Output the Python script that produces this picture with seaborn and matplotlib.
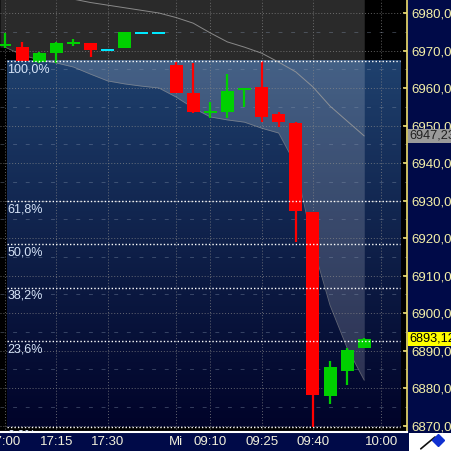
import numpy as np
import pandas as pd
import seaborn as sns
import matplotlib.pyplot as plt
from matplotlib.colors import to_rgb

# 5-Minuten-Kerzen, Index 0 = 17:00 (Vortag), Index 10 = 09:00 (Mi)
bar_idx = list(range(22))
open_ = [6971.3, 6970.9, 6966.9, 6969.3, 6972.0, 6972.0, 6970.1, 6970.7, 6974.7, 6974.7, 6966.1,
         6958.7, 6953.6, 6953.6, 6959.5, 6960.3, 6953.1, 6950.7, 6926.9, 6877.9, 6884.5, 6890.7]
close = [6971.5, 6967.2, 6969.3, 6972.0, 6972.2, 6970.1, 6970.1, 6974.9, 6974.7, 6974.7, 6958.7,
         6953.6, 6953.8, 6959.2, 6959.8, 6952.3, 6950.9, 6927.2, 6878.1, 6885.6, 6890.1, 6893.12]
high = [6974.7, 6972.3, 6969.5, 6972.3, 6973.1, 6972.0, 6970.1, 6974.9, 6974.7, 6974.7, 6967.0,
        6966.7, 6956.3, 6963.7, 6959.8, 6967.2, 6953.6, 6950.9, 6927.0, 6887.2, 6890.7, 6893.3]
low = [6970.6, 6967.2, 6966.7, 6966.7, 6971.2, 6968.3, 6970.1, 6970.7, 6974.7, 6974.7, 6958.7,
       6953.3, 6952.0, 6952.0, 6955.0, 6950.9, 6949.6, 6918.9, 6869.5, 6875.7, 6880.8, 6890.7]

# Baender (oberes / unteres)
upper_band = [6991.0, 6989.0, 6987.2, 6985.4, 6983.7, 6982.8, 6982.1, 6981.4, 6980.7, 6980.0, 6978.8,
              6977.3, 6974.7, 6972.3, 6970.9, 6969.3, 6966.9, 6964.3, 6960.3, 6955.2, 6951.2, 6947.23]
lower_band = [6970.9, 6968.8, 6967.5, 6966.7, 6965.6, 6963.7, 6961.9, 6961.1, 6960.5, 6960.0, 6957.6,
              6954.7, 6952.3, 6951.5, 6950.9, 6949.3, 6948.0, 6939.5, 6918.0, 6902.1, 6890.7, 6882.1]

# Fibonacci-Retracement
fib_high = 6967.2
fib_low = 6869.5
fib_levels = [1.0, 0.618, 0.5, 0.382, 0.236, 0.0]
fib_labels = ["100,0%", "61,8%", "50,0%", "38,2%", "23,6%", "0,0%"]

tick_pos = [0, 3, 6, 10, 12, 15, 18, 22]
tick_labels = ["17:00", "17:15", "17:30", "Mi", "09:10", "09:25", "09:40", "10:00"]
price_ticks = list(range(6870, 6990, 10))

last_price = 6893.12
band_last = 6947.23


def setup():
    sns.set_theme(style="dark")
    plt.rcParams["font.family"] = ["Liberation Sans", "DejaVu Sans"]


def draw_chart():
    fig = plt.figure(figsize=(4.51, 4.51), dpi=100, facecolor="#000a48")
    ax = fig.add_axes([0, 19 / 451, 407 / 451, 432 / 451])
    ax.set_facecolor("black")

    x_left, x_right = -0.29, 23.5
    y_bottom, y_top = 6868.3, 6983.47
    fib_x0, fib_x1 = 0.12, 23.1

    # Verlauf im Fibonacci-Bereich
    top_c = np.array(to_rgb("#1f416e"))
    bot_c = np.array(to_rgb("#01042a"))
    t = np.linspace(0, 1, 256) ** 1.1
    grad = (bot_c[None, :] * (1 - t[:, None]) + top_c[None, :] * t[:, None])[:, None, :]
    ax.imshow(grad, extent=[fib_x0, fib_x1, fib_low, fib_high], origin="lower",
              aspect="auto", zorder=0, interpolation="bilinear")

    # helle Flaeche oberhalb des unteren Bandes
    fx = np.r_[x_left, bar_idx]
    fy = np.r_[lower_band[0], lower_band]
    ax.fill_between(fx, fy, y_top + 5, color="white", alpha=0.17, lw=0, zorder=1)

    # Gitter
    for v in price_ticks:
        ax.axhline(v, color="#8a8a8a", lw=0.7, ls=(0, (1, 2)), alpha=0.7, zorder=2)
        ax.axhline(v + 5, color="#8090a8", lw=0.7, ls=(0, (4, 9)), alpha=0.4, zorder=2)
    for p in tick_pos:
        ax.axvline(p, color="#8a8a8a", lw=0.7, ls=(0, (1, 2)), alpha=0.7, zorder=2)

    # Baender
    bands = pd.DataFrame({"i": bar_idx, "upper": upper_band, "lower": lower_band})
    sns.lineplot(data=bands, x="i", y="upper", color="#9a9a9a", lw=0.7, alpha=0.85, ax=ax, zorder=4)
    sns.lineplot(data=bands, x="i", y="lower", color="#9a9a9a", lw=0.6, alpha=0.6, ax=ax, zorder=4)

    # Kerzen
    o = np.array(open_)
    c = np.array(close)
    colors = np.where(c > o, "#00d000", np.where(c < o, "#ff0000", "#00e8ff"))
    ax.vlines(bar_idx, low, high, colors=colors, lw=1.6, zorder=5)
    body_h = np.maximum(np.abs(c - o), 0.5)
    body_b = np.where(np.abs(c - o) < 0.5, (o + c) / 2 - 0.25, np.minimum(o, c))
    ax.bar(bar_idx, body_h, bottom=body_b, width=0.76, color=colors, lw=0, zorder=5)

    # Fibonacci-Linien
    rng = fib_high - fib_low
    for lev, lab in zip(fib_levels, fib_labels):
        yv = fib_low + lev * rng
        ax.hlines(yv, fib_x0, fib_x1, colors="white", lw=1.0, ls=(0, (1, 1.5)), zorder=6)
        ax.text(fib_x0 + 0.03, yv - 0.6, lab, color="#d6e4f8", fontsize=9,
                ha="left", va="top", zorder=6, clip_on=True)

    ax.set_xlim(x_left, x_right)
    ax.set_ylim(y_bottom, y_top)

    # Achsen
    for s in ["left", "top"]:
        ax.spines[s].set_visible(False)
    ax.spines["right"].set_color("#f0e070")
    ax.spines["right"].set_linewidth(1.2)
    ax.spines["bottom"].set_color("white")
    ax.spines["bottom"].set_linewidth(1.5)

    ax.yaxis.tick_right()
    ax.set_yticks(price_ticks)
    ax.set_yticklabels([f"{v:.2f}".replace(".", ",") for v in price_ticks])
    ax.tick_params(axis="y", colors="#f0e070", labelcolor="#f5f0a8", labelsize=9.5,
                   direction="in", length=3, pad=3, left=False, right=True)
    ax.set_xticks(tick_pos)
    ax.set_xticklabels(tick_labels)
    ax.tick_params(axis="x", colors="white", labelcolor="#f2f0dc", labelsize=9.5,
                   direction="in", length=3, pad=3)
    ax.set_xlabel("")
    ax.set_ylabel("")
    ax.grid(False)

    # Preis-Marken rechts
    ax.annotate(f"{last_price:.2f}".replace(".", ","), xy=(1.0, last_price),
                xycoords=("axes fraction", "data"), xytext=(1.5, 0), textcoords="offset points",
                va="center", ha="left", fontsize=9.2, color="black", annotation_clip=False,
                bbox=dict(boxstyle="square,pad=0.1", fc="#ffff00", ec="none"))
    ax.annotate(f"{band_last:.2f}".replace(".", ","), xy=(1.0, band_last),
                xycoords=("axes fraction", "data"), xytext=(1.5, 0), textcoords="offset points",
                va="center", ha="left", fontsize=9.2, color="#202020", annotation_clip=False,
                bbox=dict(boxstyle="square,pad=0.1", fc="#9a9a9a", ec="none"))

    # Flaggen-Symbol unten rechts
    ic = fig.add_axes([409 / 451, 0, 42 / 451, 18 / 451])
    ic.set_facecolor("white")
    ic.set_xticks([])
    ic.set_yticks([])
    for s in ic.spines.values():
        s.set_visible(False)
    ic.plot([0.28, 0.62], [0.12, 0.78], color="#101010", lw=1.2)
    ic.plot([0.68], [0.62], marker="D", color="#1030d0", ms=6)
    ic.set_xlim(0, 1)
    ic.set_ylim(0, 1)

    fig.savefig("out.png", dpi=100, facecolor=fig.get_facecolor())


def main():
    setup()
    draw_chart()


if __name__ == "__main__":
    main()
